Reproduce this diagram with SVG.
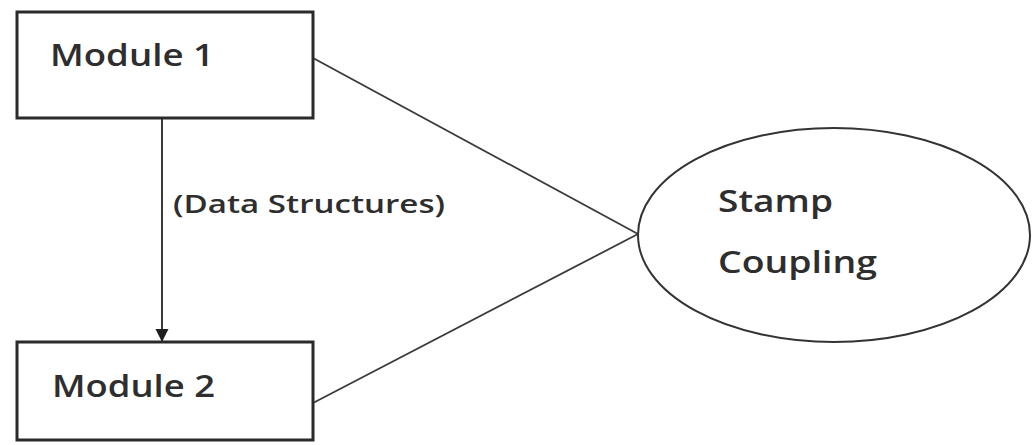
<svg xmlns="http://www.w3.org/2000/svg" width="1033" height="445" viewBox="0 0 1033 445">
  <defs>
    <marker id="arrow" viewBox="0 0 10 10" refX="10" refY="5" markerWidth="13" markerHeight="14" markerUnits="userSpaceOnUse" orient="auto">
      <path d="M0,0 L10,5 L0,10 Z" fill="#1e1e1e"/>
    </marker>
    <style>
      .box { fill: #fff; stroke: #2b2b2b; stroke-width: 3; }
      .oval { fill: #fff; stroke: #333; stroke-width: 2; }
      .link { fill: none; stroke: #3a3a3a; stroke-width: 1.8; }
      .label { font-family: "Open Sans", "Liberation Sans", sans-serif; fill: #2e2e2e; font-weight: 600; }
      .big { font-size: 31px; }
      .small { font-size: 25px; }
    </style>
  </defs>
  <rect width="1033" height="445" fill="#fff"/>

  <g id="connectors">
    <line class="link" x1="313" y1="58" x2="638" y2="234"/>
    <line class="link" x1="313" y1="403" x2="638" y2="234"/>
    <line class="link" x1="162" y1="118" x2="162" y2="342" marker-end="url(#arrow)" style="stroke-width:2"/>
    <text class="label small" x="173" y="213" textLength="272" lengthAdjust="spacingAndGlyphs">(Data Structures)</text>
  </g>

  <g id="module1">
    <rect class="box" x="17" y="12" width="296" height="106"/>
    <text class="label big" x="50" y="66" textLength="164" lengthAdjust="spacingAndGlyphs">Module 1</text>
  </g>

  <g id="module2">
    <rect class="box" x="17" y="342" width="296" height="98"/>
    <text class="label big" x="52" y="397" textLength="163" lengthAdjust="spacingAndGlyphs">Module 2</text>
  </g>

  <g id="stamp-coupling">
    <ellipse class="oval" cx="834" cy="235" rx="196" ry="107"/>
    <text class="label big" x="718" y="212" textLength="115" lengthAdjust="spacingAndGlyphs">Stamp</text>
    <text class="label big" x="718" y="273" textLength="159" lengthAdjust="spacingAndGlyphs">Coupling</text>
  </g>
</svg>
